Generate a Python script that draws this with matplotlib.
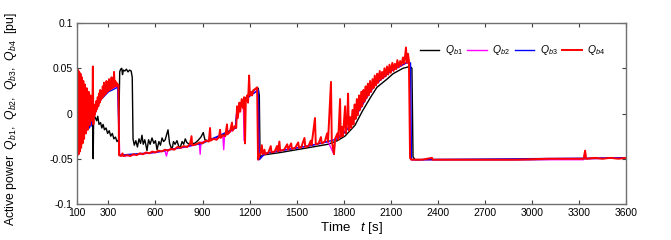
import matplotlib
matplotlib.use("Agg")
import matplotlib.pyplot as plt

#  Daten 
# Q_b1 (schwarz)
t_b1 = [100, 120, 140, 160, 180, 195, 200, 203, 206, 215, 225, 232, 240, 250, 258, 266, 275, 285,
        295, 305, 315, 325, 335, 345, 355, 365, 372, 378, 385, 390, 395, 405, 415, 425, 435, 445,
        452, 457, 465, 475, 485, 495, 505, 514, 522, 532, 546, 556, 566, 578, 590, 600, 610, 622,
        632, 642, 652, 662, 680, 690, 705, 715, 725, 737, 748, 757, 770, 780, 790, 800, 815, 830,
        850, 870, 890, 905, 915, 935, 960, 1000, 1040, 1080, 1110, 1125, 1150, 1180, 1200, 1230,
        1255, 1262, 1267, 1280, 1400, 1500, 1600, 1700, 1760, 1808, 1840, 1872, 1917, 1968, 2012,
        2076, 2115, 2178, 2223, 2235, 2242, 2255, 2500, 3000, 3330, 3600]
q_b1 = [0.050, 0.040, 0.030, 0.022, 0.012, 0.002, -0.004, -0.050, -0.002, -0.004, -0.008, -0.003,
        -0.012, -0.010, -0.016, -0.012, -0.018, -0.016, -0.022, -0.019, -0.025, -0.022, -0.028,
        -0.026, -0.031, -0.029, 0.046, 0.049, 0.050, 0.043, 0.048, 0.047, 0.049, 0.046, 0.048,
        0.047, 0.040, -0.028, -0.035, -0.030, -0.037, -0.028, -0.033, -0.024, -0.034, -0.029,
        -0.041, -0.029, -0.034, -0.027, -0.033, -0.030, -0.040, -0.031, -0.035, -0.027, -0.031,
        -0.029, -0.018, -0.033, -0.040, -0.031, -0.034, -0.030, -0.036, -0.038, -0.031, -0.034,
        -0.028, -0.032, -0.034, -0.033, -0.033, -0.030, -0.026, -0.021, -0.029, -0.030, -0.028,
        -0.026, -0.023, -0.019, -0.015, 0.004, 0.012, 0.018, 0.022, 0.026, 0.028, 0.020, -0.050,
        -0.046, -0.043, -0.040, -0.037, -0.034, -0.030, -0.025, -0.019, -0.013, 0.002, 0.017,
        0.029, 0.038, 0.044, 0.050, 0.052, 0.050, -0.048, -0.051, -0.051, -0.051, -0.050, -0.049]

# Q_b2 (magenta)
t_b2 = [100, 110, 120, 130, 145, 160, 175, 190, 205, 240, 280, 320, 360, 372, 400, 600, 660, 670,
        680, 800, 880, 885, 890, 1000, 1030, 1035, 1040, 1110, 1120, 1160, 1165, 1170, 1200, 1255,
        1260, 1300, 1400, 1500, 1600, 1700, 1738, 1745, 1800, 1850, 1900, 1950, 2000, 2100, 2200,
        2218, 2228, 2240, 2800, 3330, 3339, 3345, 3600]
q_b2 = [0.050, -0.040, 0.040, -0.030, 0.030, -0.020, 0.020, -0.010, 0.000, 0.015, 0.022, 0.028,
        0.030, -0.046, -0.047, -0.043, -0.041, -0.047, -0.040, -0.037, -0.033, -0.045, -0.032,
        -0.027, -0.025, -0.040, -0.025, -0.016, 0.006, 0.014, -0.030, 0.014, 0.020, 0.026, -0.051,
        -0.044, -0.041, -0.038, -0.035, -0.031, -0.045, -0.028, -0.021, -0.011, 0.004, 0.019, 0.032,
        0.047, 0.056, 0.057, -0.050, -0.051, -0.051, -0.051, -0.041, -0.050, -0.049]

# Q_b3 (blau)
t_b3 = [100, 120, 140, 160, 175, 180, 185, 190, 195, 200, 210, 250, 300, 360, 370, 600, 900, 1110,
        1120, 1200, 1256, 1260, 1300, 1400, 1500, 1600, 1700, 1760, 1800, 1850, 1900, 1950, 2000,
        2100, 2200, 2226, 2232, 3600]
q_b3 = [0.050, 0.040, 0.030, 0.024, 0.022, -0.016, 0.015, -0.014, 0.010, -0.010, 0.000, 0.015,
        0.024, 0.029, -0.046, -0.043, -0.033, -0.016, 0.005, 0.019, 0.026, -0.051, -0.044, -0.041,
        -0.038, -0.035, -0.031, -0.028, -0.022, -0.012, 0.004, 0.019, 0.032, 0.047, 0.056, 0.056,
        -0.051, -0.049]

# Q_b4 (rot)
t_b4 = [100, 103, 107, 110, 114, 118, 122, 126, 131, 135, 140, 145, 150, 156, 162, 168, 174, 180,
        186, 192, 198, 201, 204, 208, 212, 216, 220, 224, 228, 232, 236, 240, 244, 248, 252, 256,
        260, 264, 268, 272, 276, 280, 284, 288, 292, 296, 300, 304, 308, 312, 316, 320, 324, 328,
        332, 336, 340, 344, 348, 352, 358, 364, 368, 380, 390, 395, 420, 440, 460, 480, 500, 520,
        540, 560, 580, 600, 620, 640, 660, 680, 700, 720, 740, 760, 780, 800, 820, 830, 834, 840,
        860, 880, 900, 920, 940, 948, 952, 970, 990, 1005, 1012, 1016, 1030, 1045, 1056, 1060,
        1075, 1088, 1092, 1105, 1115, 1120, 1125, 1135, 1140, 1150, 1158, 1165, 1171, 1176, 1184,
        1190, 1197, 1202, 1210, 1216, 1225, 1235, 1248, 1254, 1262, 1270, 1278, 1284, 1295, 1300,
        1320, 1335, 1340, 1360, 1375, 1380, 1390, 1395, 1420, 1440, 1445, 1465, 1470, 1490, 1510,
        1515, 1530, 1550, 1555, 1575, 1590, 1595, 1617, 1622, 1640, 1655, 1660, 1680, 1694, 1700,
        1719, 1724, 1738, 1745, 1760, 1765, 1777, 1781, 1790, 1795, 1809, 1813, 1822, 1828, 1833,
        1842, 1848, 1856, 1862, 1870, 1876, 1884, 1890, 1898, 1904, 1912, 1918, 1926, 1932, 1940,
        1946, 1954, 1960, 1968, 1975, 1984, 1990, 1998, 2006, 2014, 2020, 2030, 2036, 2045, 2052,
        2060, 2068, 2076, 2084, 2092, 2100, 2110, 2118, 2126, 2134, 2142, 2150, 2160, 2168, 2178,
        2186, 2197, 2203, 2210, 2216, 2223, 2230, 2300, 2363, 2368, 2500, 2700, 2900, 3100, 3330,
        3339, 3345, 3400, 3450, 3500, 3550, 3600]
q_b4 = [0.050, -0.046, 0.048, -0.045, 0.046, -0.042, 0.044, -0.038, 0.040, -0.033, 0.036, -0.028,
        0.032, -0.022, 0.028, -0.018, 0.024, -0.013, 0.020, -0.008, 0.004, 0.052, -0.012, 0.004,
        -0.002, 0.010, 0.002, 0.014, 0.005, 0.018, 0.008, 0.022, 0.012, 0.026, 0.015, 0.024, 0.017,
        0.030, 0.019, 0.034, 0.021, 0.028, 0.022, 0.036, 0.024, 0.031, 0.025, 0.038, 0.026, 0.033,
        0.027, 0.040, 0.028, 0.035, 0.029, 0.046, 0.030, 0.036, 0.031, 0.034, 0.030, 0.032, -0.046,
        -0.047, -0.044, -0.047, -0.046, -0.047, -0.045, -0.046, -0.044, -0.045, -0.043, -0.044,
        -0.042, -0.043, -0.041, -0.042, -0.040, -0.041, -0.039, -0.040, -0.037, -0.038, -0.036,
        -0.037, -0.034, -0.025, -0.035, -0.035, -0.034, -0.032, -0.033, -0.030, -0.031, -0.016,
        -0.030, -0.028, -0.029, -0.026, -0.018, -0.027, -0.024, -0.025, -0.012, -0.023, -0.020,
        -0.010, -0.019, -0.014, -0.016, 0.008, -0.005, 0.012, 0.002, 0.016, 0.006, 0.018, -0.033,
        0.014, 0.020, 0.012, 0.042, 0.020, 0.024, 0.020, 0.026, 0.027, 0.029, -0.051, -0.046,
        -0.044, -0.035, -0.045, -0.040, -0.045, -0.043, -0.036, -0.043, -0.042, -0.036, -0.042,
        -0.031, -0.041, -0.040, -0.034, -0.040, -0.033, -0.039, -0.038, -0.032, -0.038, -0.037,
        -0.027, -0.037, -0.036, -0.030, -0.035, -0.005, -0.034, -0.033, -0.026, -0.033, -0.031,
        -0.022, -0.031, 0.035, -0.030, -0.045, -0.028, -0.022, -0.029, 0.016, -0.026, -0.015,
        -0.025, 0.008, -0.022, -0.008, 0.022, -0.019, -0.004, -0.016, 0.004, -0.012, 0.010, -0.006,
        0.016, -0.002, 0.020, 0.004, 0.024, 0.008, 0.026, 0.013, 0.030, 0.017, 0.033, 0.020, 0.036,
        0.024, 0.038, 0.028, 0.042, 0.031, 0.044, 0.034, 0.047, 0.037, 0.046, 0.039, 0.050, 0.041,
        0.052, 0.043, 0.054, 0.045, 0.056, 0.047, 0.055, 0.049, 0.059, 0.051, 0.058, 0.053, 0.062,
        0.055, 0.073, 0.056, 0.066, 0.058, -0.049, -0.051, -0.051, -0.049, -0.051, -0.051, -0.051,
        -0.051, -0.050, -0.050, -0.041, -0.050, -0.049, -0.050, -0.049, -0.050, -0.049]

x_ticks = [100, 300, 600, 900, 1200, 1500, 1800, 2100, 2400, 2700, 3000, 3300, 3600]
y_ticks = [-0.1, -0.05, 0, 0.05, 0.1]
y_ticklabels = ["-0.1", "-0.05", "0", "0.05", "0.1"]

#  Plot 
plt.rcParams["font.family"] = ["Liberation Sans", "DejaVu Sans"]
plt.rcParams["mathtext.fontset"] = "custom"
plt.rcParams["mathtext.rm"] = "Liberation Sans"
plt.rcParams["mathtext.it"] = "Liberation Sans:italic"

fig = plt.figure(figsize=(6.71, 2.40), dpi=100)
ax = fig.add_axes([0.1148, 0.15, 0.8182, 0.754])

ax.plot(t_b1, q_b1, color="black", lw=1.0, label=r"$Q_{\mathit{b1}}$")
ax.plot(t_b2, q_b2, color="#ff00ff", lw=1.0, label=r"$Q_{\mathit{b2}}$")
ax.plot(t_b3, q_b3, color="#0000ff", lw=1.0, label=r"$Q_{\mathit{b3}}$")
ax.plot(t_b4, q_b4, color="#ff0000", lw=1.4, label=r"$Q_{\mathit{b4}}$")

ax.set_xlim(100, 3600)
ax.set_ylim(-0.1, 0.1)
ax.set_xticks(x_ticks)
ax.set_yticks(y_ticks)
ax.set_yticklabels(y_ticklabels)
ax.tick_params(direction="in", length=3, width=0.8, top=True, right=True,
               labelsize=7.5, pad=3, color="#404040")
for sp in ax.spines.values():
    sp.set_color("#707070")
    sp.set_linewidth(1.0)

ax.set_xlabel(r"Time   $t$ [s]", fontsize=9.5, labelpad=1)
ax.set_ylabel(r"Active power  $Q_{\mathit{b1}}$,  $Q_{\mathit{b2}}$,  $Q_{\mathit{b3}}$,  $Q_{\mathit{b4}}$  [pu]",
              fontsize=8.8)
ax.yaxis.set_label_coords(-0.105, 0.47)

ax.legend(loc="center right", bbox_to_anchor=(0.975, 0.85), ncol=4, frameon=False,
          fontsize=7.5, handlelength=1.9, handletextpad=0.5, columnspacing=0.45,
          borderpad=0.2)

fig.savefig("out.png", dpi=100)
